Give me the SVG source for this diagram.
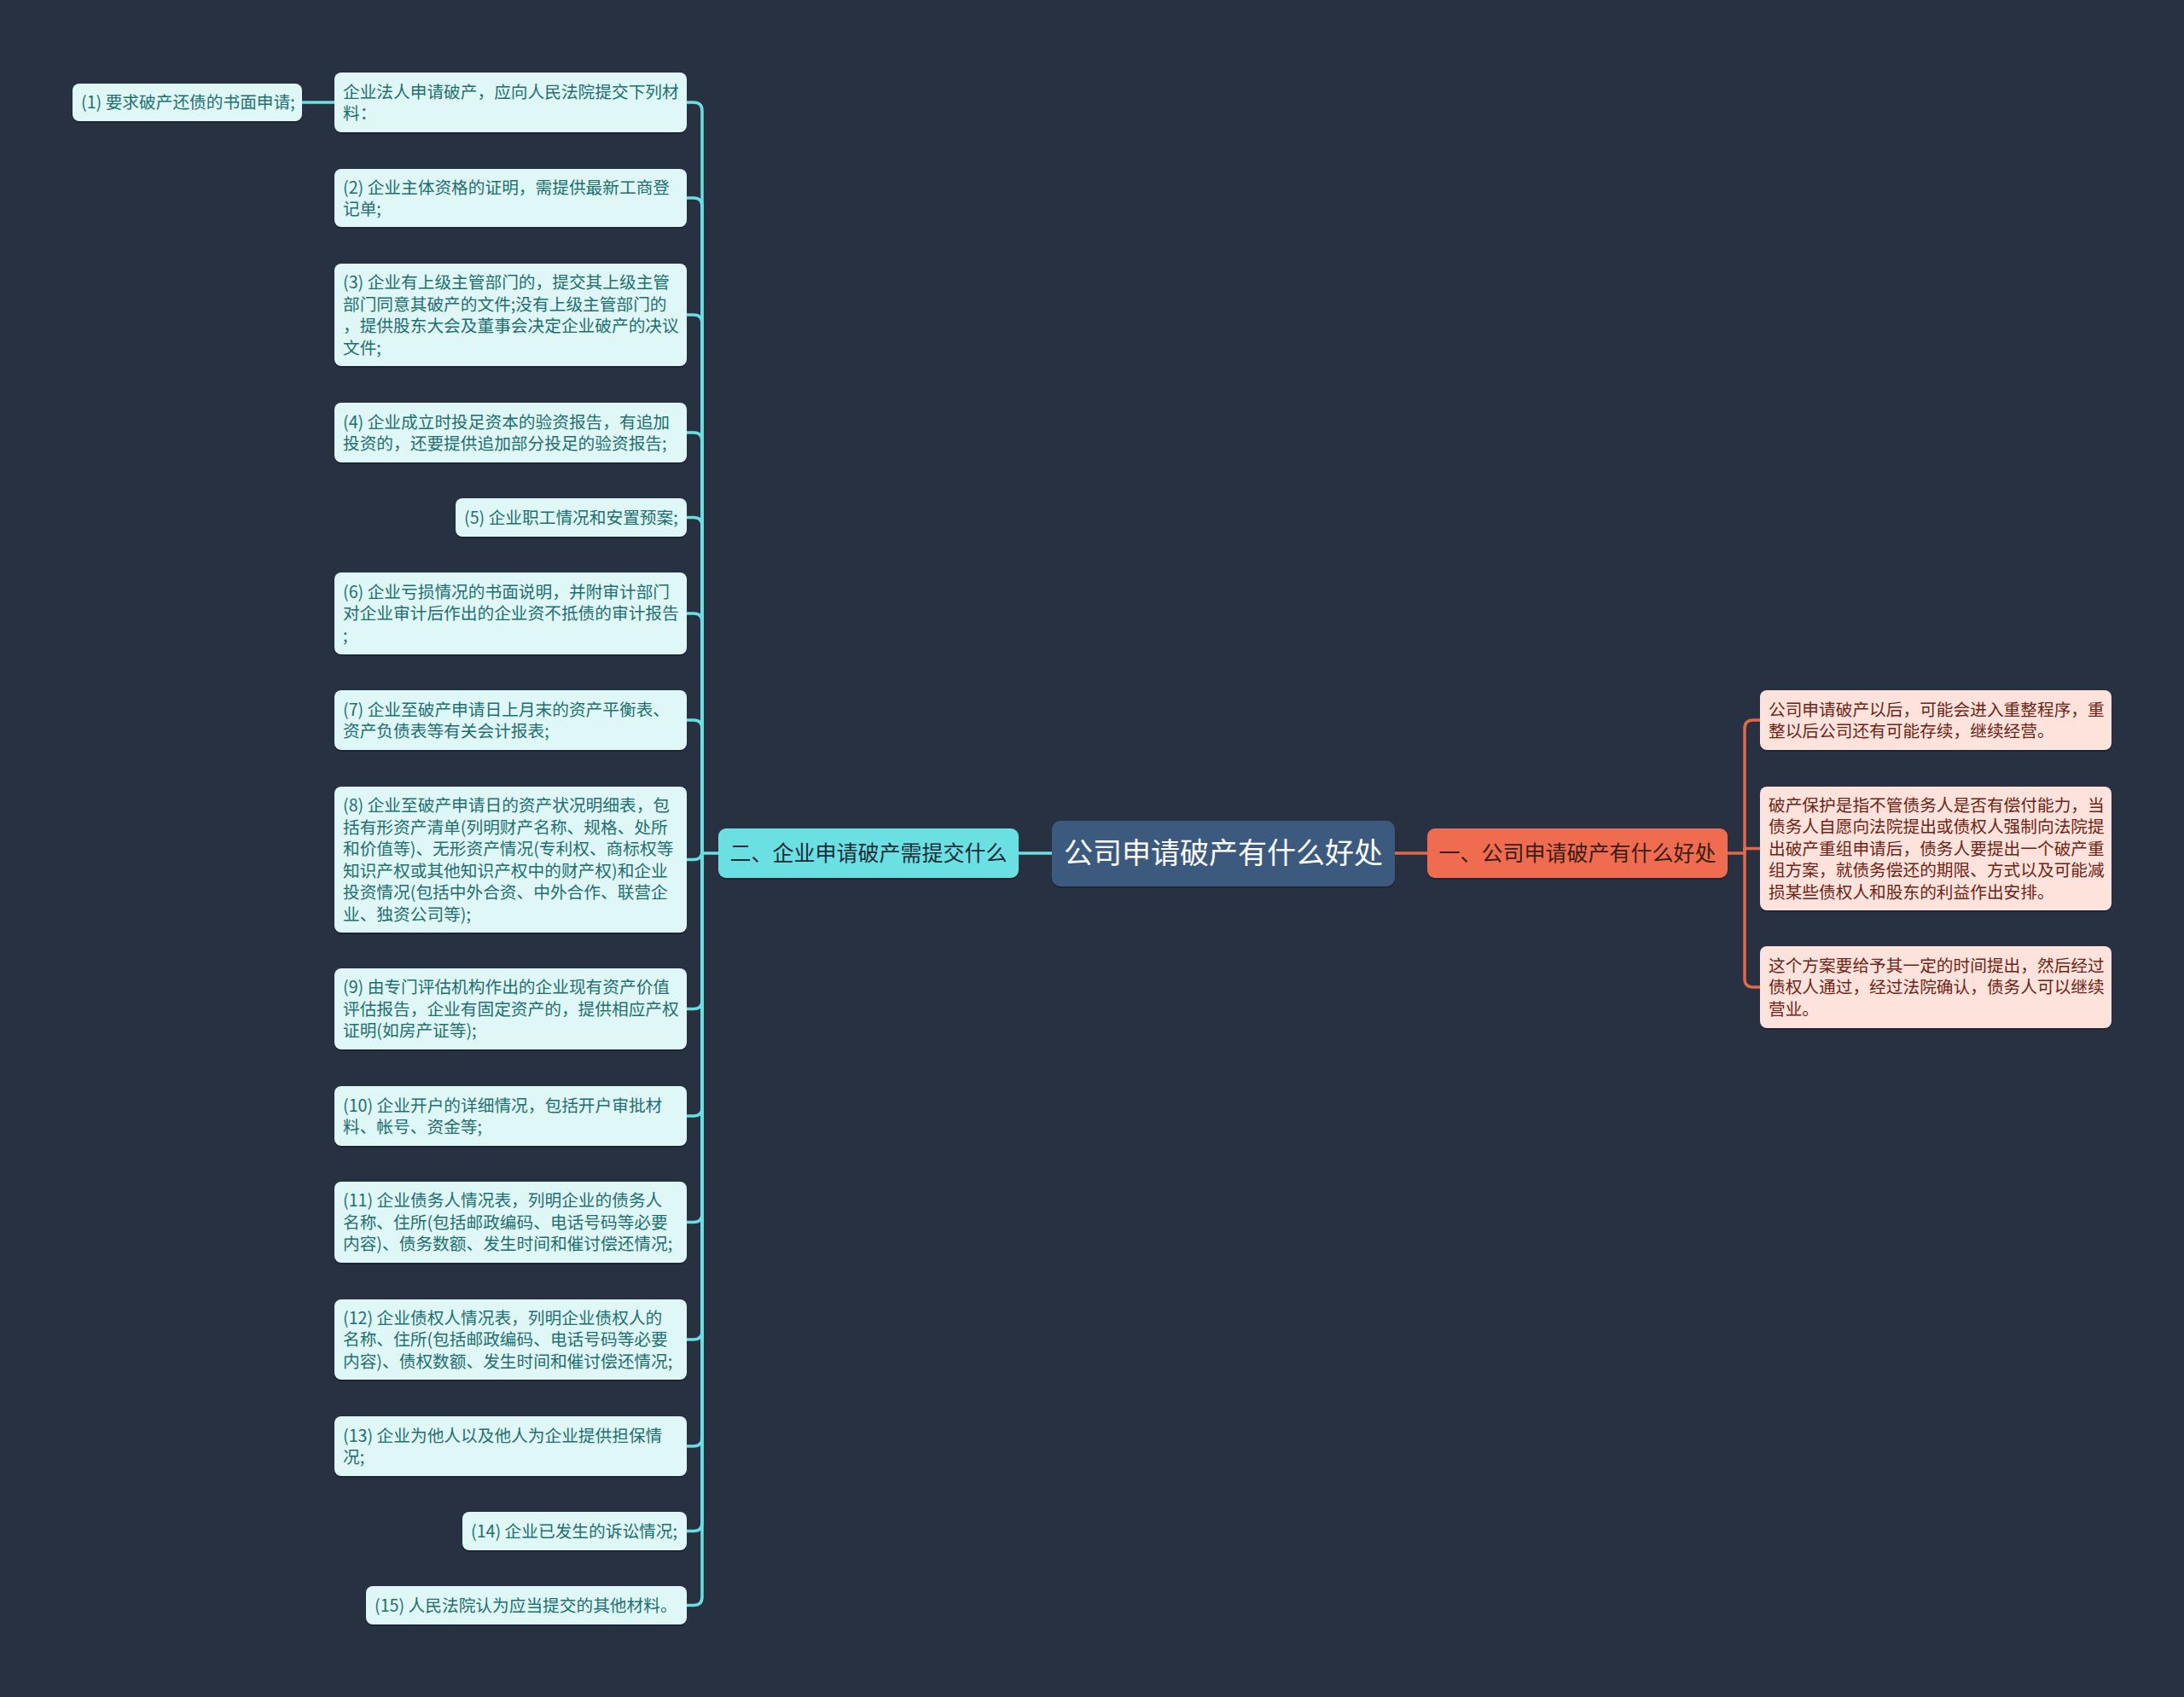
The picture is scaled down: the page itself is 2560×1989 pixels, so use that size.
<svg xmlns="http://www.w3.org/2000/svg" width="2560" height="1989" viewBox="0 0 2560 1989">
<style>
text{font-family:"Noto Sans CJK SC","Noto Sans",sans-serif;}
.leaf rect.b{fill:#e0f7f7;}
.leaf text{font-size:19.7px;fill:#1d6f70;}
.rleaf rect.b{fill:#fde3dc;}
.rleaf text{font-size:19.7px;fill:#6e2316;}
.sh{fill:#161c26;opacity:0.55;}
.lc{fill:none;stroke:#6adfe2;stroke-width:3.5;}
.rc{fill:none;stroke:#e2684c;stroke-width:3.5;}
</style>
<rect width="2560" height="1989" fill="#283142"/>
<g id="connectors">
<path class="lc" d="M354,120 H392"/>
<path class="lc" d="M1194,1000 H1233"/>
<path class="lc" d="M805,120 H813 Q823,120 823,130 V1000 H842"/>
<path class="lc" d="M805,232 H813 Q823,232 823,242 V1000"/>
<path class="lc" d="M805,369 H813 Q823,369 823,379 V1000"/>
<path class="lc" d="M805,507 H813 Q823,507 823,517 V1000"/>
<path class="lc" d="M805,606.5 H813 Q823,606.5 823,616.5 V1000"/>
<path class="lc" d="M805,719 H813 Q823,719 823,729 V1000"/>
<path class="lc" d="M805,844 H813 Q823,844 823,854 V1000"/>
<path class="lc" d="M805,1007.5 H813 Q823,1007.5 823,997.5 V1000"/>
<path class="lc" d="M805,1182.5 H813 Q823,1182.5 823,1172.5 V1000"/>
<path class="lc" d="M805,1308 H813 Q823,1308 823,1298 V1000"/>
<path class="lc" d="M805,1432.5 H813 Q823,1432.5 823,1422.5 V1000"/>
<path class="lc" d="M805,1570 H813 Q823,1570 823,1560 V1000"/>
<path class="lc" d="M805,1695 H813 Q823,1695 823,1685 V1000"/>
<path class="lc" d="M805,1794.5 H813 Q823,1794.5 823,1784.5 V1000"/>
<path class="lc" d="M805,1881.5 H813 Q823,1881.5 823,1871.5 V1000"/>
<path class="rc" d="M1635,1000 H1673"/>
<path class="rc" d="M2025,1000 H2045 V854 Q2045,844 2055,844 H2063"/>
<path class="rc" d="M2045,1000 V994.5 H2063"/>
<path class="rc" d="M2045,1000 V1147 Q2045,1157 2055,1157 H2063"/>
</g>

<g id="center">
<rect class="sh" x="1233" y="964" width="402" height="77" rx="10"/>
<rect x="1233" y="962" width="402" height="77" rx="10" fill="#3c5a7e"/>
<text x="1434" y="1012" font-size="34" fill="#ffffff" text-anchor="middle">公司申请破产有什么好处</text>
</g>
<g id="branch-left">
<rect class="sh" x="842" y="973" width="352" height="58" rx="9"/>
<rect x="842" y="971" width="352" height="58" rx="9" fill="#6ae0e3"/>
<text x="1018" y="1009" font-size="25" fill="#1e2a36" text-anchor="middle">二、企业申请破产需提交什么</text>
</g>
<g id="branch-right">
<rect class="sh" x="1673" y="973" width="352" height="58" rx="9"/>
<rect x="1673" y="971" width="352" height="58" rx="9" fill="#ef6c50"/>
<text x="1849" y="1009" font-size="25" fill="#3a1d14" text-anchor="middle">一、公司申请破产有什么好处</text>
</g>

<g id="n1" class="leaf">
<rect class="sh" x="85" y="100" width="269" height="44" rx="8"/>
<rect class="b" x="85" y="98" width="269" height="44" rx="8"/>
<text x="95" y="127">(1) 要求破产还债的书面申请;</text>
</g>
<g id="n0" class="leaf">
<rect class="sh" x="392" y="87" width="413" height="70" rx="8"/>
<rect class="b" x="392" y="85" width="413" height="70" rx="8"/>
<text x="402" y="114.5">企业法人申请破产，应向人民法院提交下列材</text>
<text x="402" y="140">料：</text>
</g>
<g id="n2" class="leaf">
<rect class="sh" x="392" y="200" width="413" height="68" rx="8"/>
<rect class="b" x="392" y="198" width="413" height="68" rx="8"/>
<text x="402" y="226.5">(2) 企业主体资格的证明，需提供最新工商登</text>
<text x="402" y="252">记单;</text>
</g>
<g id="n3" class="leaf">
<rect class="sh" x="392" y="311" width="413" height="120" rx="8"/>
<rect class="b" x="392" y="309" width="413" height="120" rx="8"/>
<text x="402" y="338">(3) 企业有上级主管部门的，提交其上级主管</text>
<text x="402" y="363.5">部门同意其破产的文件;没有上级主管部门的</text>
<text x="402" y="389">，提供股东大会及董事会决定企业破产的决议</text>
<text x="402" y="414.5">文件;</text>
</g>
<g id="n4" class="leaf">
<rect class="sh" x="392" y="474" width="413" height="70" rx="8"/>
<rect class="b" x="392" y="472" width="413" height="70" rx="8"/>
<text x="402" y="501.5">(4) 企业成立时投足资本的验资报告，有追加</text>
<text x="402" y="527">投资的，还要提供追加部分投足的验资报告;</text>
</g>
<g id="n5" class="leaf">
<rect class="sh" x="534" y="586" width="271" height="45" rx="8"/>
<rect class="b" x="534" y="584" width="271" height="45" rx="8"/>
<text x="544" y="613.5">(5) 企业职工情况和安置预案;</text>
</g>
<g id="n6" class="leaf">
<rect class="sh" x="392" y="673" width="413" height="96" rx="8"/>
<rect class="b" x="392" y="671" width="413" height="96" rx="8"/>
<text x="402" y="700.5">(6) 企业亏损情况的书面说明，并附审计部门</text>
<text x="402" y="726">对企业审计后作出的企业资不抵债的审计报告</text>
<text x="402" y="751.5">;</text>
</g>
<g id="n7" class="leaf">
<rect class="sh" x="392" y="811" width="413" height="70" rx="8"/>
<rect class="b" x="392" y="809" width="413" height="70" rx="8"/>
<text x="402" y="838.5">(7) 企业至破产申请日上月末的资产平衡表、</text>
<text x="402" y="864">资产负债表等有关会计报表;</text>
</g>
<g id="n8" class="leaf">
<rect class="sh" x="392" y="924" width="413" height="171" rx="8"/>
<rect class="b" x="392" y="922" width="413" height="171" rx="8"/>
<text x="402" y="951">(8) 企业至破产申请日的资产状况明细表，包</text>
<text x="402" y="976.5">括有形资产清单(列明财产名称、规格、处所</text>
<text x="402" y="1002">和价值等)、无形资产情况(专利权、商标权等</text>
<text x="402" y="1027.5">知识产权或其他知识产权中的财产权)和企业</text>
<text x="402" y="1053">投资情况(包括中外合资、中外合作、联营企</text>
<text x="402" y="1078.5">业、独资公司等);</text>
</g>
<g id="n9" class="leaf">
<rect class="sh" x="392" y="1137" width="413" height="95" rx="8"/>
<rect class="b" x="392" y="1135" width="413" height="95" rx="8"/>
<text x="402" y="1164">(9) 由专门评估机构作出的企业现有资产价值</text>
<text x="402" y="1189.5">评估报告，企业有固定资产的，提供相应产权</text>
<text x="402" y="1215">证明(如房产证等);</text>
</g>
<g id="n10" class="leaf">
<rect class="sh" x="392" y="1275" width="413" height="70" rx="8"/>
<rect class="b" x="392" y="1273" width="413" height="70" rx="8"/>
<text x="402" y="1302.5">(10) 企业开户的详细情况，包括开户审批材</text>
<text x="402" y="1328">料、帐号、资金等;</text>
</g>
<g id="n11" class="leaf">
<rect class="sh" x="392" y="1387" width="413" height="95" rx="8"/>
<rect class="b" x="392" y="1385" width="413" height="95" rx="8"/>
<text x="402" y="1414">(11) 企业债务人情况表，列明企业的债务人</text>
<text x="402" y="1439.5">名称、住所(包括邮政编码、电话号码等必要</text>
<text x="402" y="1465">内容)、债务数额、发生时间和催讨偿还情况;</text>
</g>
<g id="n12" class="leaf">
<rect class="sh" x="392" y="1525" width="413" height="94" rx="8"/>
<rect class="b" x="392" y="1523" width="413" height="94" rx="8"/>
<text x="402" y="1551.5">(12) 企业债权人情况表，列明企业债权人的</text>
<text x="402" y="1577">名称、住所(包括邮政编码、电话号码等必要</text>
<text x="402" y="1602.5">内容)、债权数额、发生时间和催讨偿还情况;</text>
</g>
<g id="n13" class="leaf">
<rect class="sh" x="392" y="1662" width="413" height="70" rx="8"/>
<rect class="b" x="392" y="1660" width="413" height="70" rx="8"/>
<text x="402" y="1689.5">(13) 企业为他人以及他人为企业提供担保情</text>
<text x="402" y="1715">况;</text>
</g>
<g id="n14" class="leaf">
<rect class="sh" x="542" y="1774" width="263" height="45" rx="8"/>
<rect class="b" x="542" y="1772" width="263" height="45" rx="8"/>
<text x="552" y="1801.5">(14) 企业已发生的诉讼情况;</text>
</g>
<g id="n15" class="leaf">
<rect class="sh" x="429" y="1861" width="376" height="45" rx="8"/>
<rect class="b" x="429" y="1859" width="376" height="45" rx="8"/>
<text x="439" y="1888.5">(15) 人民法院认为应当提交的其他材料。</text>
</g>

<g id="r1" class="rleaf">
<rect class="sh" x="2063" y="811" width="412" height="70" rx="8"/>
<rect class="b" x="2063" y="809" width="412" height="70" rx="8"/>
<text x="2073" y="838.5">公司申请破产以后，可能会进入重整程序，重</text>
<text x="2073" y="864">整以后公司还有可能存续，继续经营。</text>
</g>
<g id="r2" class="rleaf">
<rect class="sh" x="2063" y="924" width="412" height="145" rx="8"/>
<rect class="b" x="2063" y="922" width="412" height="145" rx="8"/>
<text x="2073" y="950.5">破产保护是指不管债务人是否有偿付能力，当</text>
<text x="2073" y="976">债务人自愿向法院提出或债权人强制向法院提</text>
<text x="2073" y="1001.5">出破产重组申请后，债务人要提出一个破产重</text>
<text x="2073" y="1027">组方案，就债务偿还的期限、方式以及可能减</text>
<text x="2073" y="1052.5">损某些债权人和股东的利益作出安排。</text>
</g>
<g id="r3" class="rleaf">
<rect class="sh" x="2063" y="1111" width="412" height="96" rx="8"/>
<rect class="b" x="2063" y="1109" width="412" height="96" rx="8"/>
<text x="2073" y="1138.5">这个方案要给予其一定的时间提出，然后经过</text>
<text x="2073" y="1164">债权人通过，经过法院确认，债务人可以继续</text>
<text x="2073" y="1189.5">营业。</text>
</g>
</svg>
